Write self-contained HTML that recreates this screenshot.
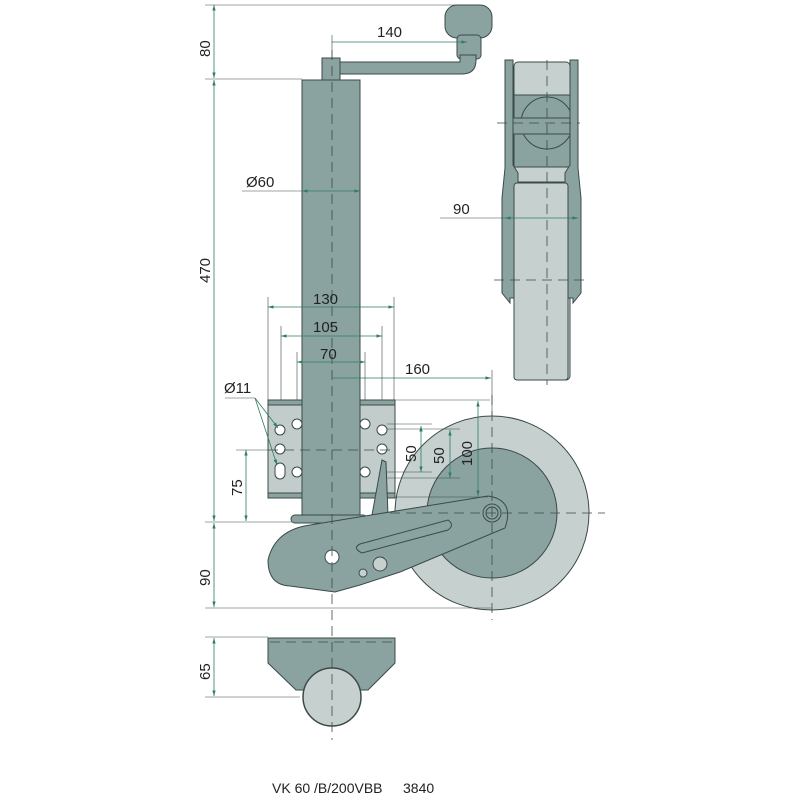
<!DOCTYPE html>
<html><head><meta charset="utf-8"><style>
html,body{margin:0;padding:0;background:#fff;}
svg{display:block;font-family:"Liberation Sans",sans-serif;}
</style></head><body>
<svg width="800" height="800" viewBox="0 0 800 800" xmlns="http://www.w3.org/2000/svg">
<defs>
<marker id="a" viewBox="0 0 10 10" refX="10" refY="5" markerWidth="7" markerHeight="7" orient="auto-start-reverse"><path d="M0,2 L10,5 L0,8 z" fill="#2e7d62"/></marker>
</defs>
<g stroke="#3a4a48" stroke-width="1">
<!-- side view -->
<rect x="514" y="62" width="56" height="318" rx="4" fill="#c6d1cf"/>
<rect x="514" y="95" width="56" height="72" fill="#8aa3a1"/>
<circle cx="547" cy="123" r="26" fill="#8aa3a1"/>
<rect x="508" y="118" width="70" height="16" rx="6" fill="#8aa3a1"/>
<rect x="513" y="167" width="58" height="15" fill="#c6d1cf"/>
<path d="M505,60 h8 v105 l5,8 v125 h-8 v5 l-8,-10 v-95 l3,-30 z" fill="#8aa3a1"/>
<path d="M578,60 h-8 v105 l-5,8 v125 h8 v5 l8,-10 v-95 l-3,-30 z" fill="#8aa3a1"/>
<rect x="514" y="183" width="54" height="197" rx="3" fill="#c6d1cf"/>
<!-- crank -->
<rect x="445" y="5" width="47" height="33" rx="12" fill="#8aa3a1"/>
<rect x="457" y="35" width="24" height="24" rx="4" fill="#8aa3a1"/>
<path d="M340,62 H460 V55 H476 V60 Q476,74 462,74 H340 Z" fill="#8aa3a1"/>
<rect x="322" y="58" width="18" height="22" fill="#8aa3a1"/>
<!-- wheel -->
<circle cx="492" cy="513" r="97" fill="#c6d1cf"/>
<circle cx="492" cy="513" r="65" fill="#8aa3a1"/>
<!-- plate -->
<rect x="268" y="400" width="127" height="98" fill="#c2cdcb"/>
<rect x="268" y="400" width="127" height="5" fill="#8aa3a1"/>
<rect x="268" y="493" width="127" height="5" fill="#8aa3a1"/>
<!-- tube -->
<rect x="302" y="80" width="58" height="440" fill="#8aa3a1"/>
<path d="M372,515 L382,460 L386,462 L388,515 Z" fill="#8aa3a1"/>
<rect x="291" y="515" width="76" height="8" rx="4" fill="#8aa3a1"/>
<!-- bracket / arm -->
<path d="M268,560 Q275,530 310,525 L488,496 Q515,500 505,528 L400,572 L360,585 L335,592 L290,586 Q268,585 268,560 Z" fill="#8aa3a1"/>
<path d="M360,544 L448,520 Q455,525 448,530 L362,553 Q352,548 360,544 Z" fill="#8aa3a1"/>
<circle cx="492" cy="513" r="9" fill="#8aa3a1"/>
<circle cx="492" cy="513" r="6" fill="none"/>
<circle cx="332" cy="557" r="7" fill="#fff"/>
<circle cx="380" cy="564" r="7" fill="#c6d1cf"/>
<circle cx="363" cy="573" r="4" fill="#c6d1cf"/>
<!-- holes -->
<g fill="#fff">
<circle cx="280" cy="430" r="5"/><circle cx="280" cy="449" r="5"/><rect x="275" y="463" width="10" height="16" rx="5"/>
<circle cx="297" cy="424" r="5"/><circle cx="297" cy="472" r="5"/>
<circle cx="365" cy="424" r="5"/><circle cx="365" cy="472" r="5"/>
<circle cx="382" cy="430" r="5"/><circle cx="382" cy="449" r="5"/>
</g>
<!-- bottom view -->
<path d="M268,638 H395 V663 L368,690 H296 L268,663 Z" fill="#8aa3a1"/>
<circle cx="332" cy="697" r="29" fill="#c6d1cf" stroke-width="1.5"/>
</g>
<!-- center lines -->
<g stroke="#3a4a48" stroke-width="0.8" stroke-dasharray="10,6" fill="none">
<line x1="332" y1="50" x2="332" y2="740"/>
<line x1="547" y1="60" x2="547" y2="385"/>
<line x1="492" y1="395" x2="492" y2="620"/>
<line x1="390" y1="513" x2="605" y2="513"/>
<line x1="268" y1="450" x2="395" y2="450"/>
<line x1="270" y1="642" x2="395" y2="642"/>
<line x1="497" y1="123" x2="580" y2="123"/>
<line x1="494" y1="280" x2="590" y2="280"/>
</g>
<!-- dimension lines -->
<g stroke="#2e7d62" stroke-width="0.8" fill="none">
<line x1="214" y1="5" x2="214" y2="78" marker-start="url(#a)" marker-end="url(#a)"/>
<line x1="214" y1="80" x2="214" y2="521" marker-start="url(#a)" marker-end="url(#a)"/>
<line x1="214" y1="523" x2="214" y2="607" marker-start="url(#a)" marker-end="url(#a)"/>
<line x1="214" y1="638" x2="214" y2="696" marker-start="url(#a)" marker-end="url(#a)"/>
<line x1="332" y1="42" x2="467" y2="42" marker-end="url(#a)"/>
<line x1="302" y1="191" x2="360" y2="191" marker-start="url(#a)" marker-end="url(#a)"/>
<line x1="268" y1="307" x2="394" y2="307" marker-start="url(#a)" marker-end="url(#a)"/>
<line x1="281" y1="336" x2="382" y2="336" marker-start="url(#a)" marker-end="url(#a)"/>
<line x1="297" y1="362" x2="365" y2="362" marker-start="url(#a)" marker-end="url(#a)"/>
<line x1="332" y1="378" x2="491" y2="378" marker-end="url(#a)"/>
<line x1="246" y1="450" x2="246" y2="521" marker-start="url(#a)" marker-end="url(#a)"/>
<line x1="421" y1="426" x2="421" y2="472" marker-start="url(#a)" marker-end="url(#a)"/>
<line x1="450" y1="430" x2="450" y2="478" marker-start="url(#a)" marker-end="url(#a)"/>
<line x1="478" y1="401" x2="478" y2="496" marker-start="url(#a)" marker-end="url(#a)"/>
<line x1="505" y1="218" x2="578" y2="218" marker-start="url(#a)" marker-end="url(#a)"/>
<line x1="255" y1="398" x2="278" y2="428" marker-end="url(#a)"/>
<line x1="255" y1="398" x2="277" y2="465" marker-end="url(#a)"/>
</g>
<g stroke="#3a4a48" stroke-width="0.6" fill="none">
<line x1="205" y1="5" x2="470" y2="5"/>
<line x1="205" y1="79" x2="302" y2="79"/>
<line x1="205" y1="522" x2="292" y2="522"/>
<line x1="205" y1="608" x2="492" y2="608"/>
<line x1="205" y1="637" x2="268" y2="637"/>
<line x1="205" y1="697" x2="300" y2="697"/>
<line x1="332" y1="35" x2="332" y2="58"/>
<line x1="242" y1="191" x2="302" y2="191"/>
<line x1="440" y1="218" x2="505" y2="218"/>
<line x1="268" y1="297" x2="268" y2="400"/>
<line x1="394" y1="297" x2="394" y2="400"/>
<line x1="281" y1="326" x2="281" y2="400"/>
<line x1="382" y1="326" x2="382" y2="400"/>
<line x1="297" y1="352" x2="297" y2="400"/>
<line x1="365" y1="352" x2="365" y2="400"/>
<line x1="492" y1="370" x2="492" y2="415"/>
<line x1="236" y1="450" x2="268" y2="450"/>
<line x1="395" y1="400" x2="490" y2="400"/>
<line x1="387" y1="424" x2="432" y2="424"/>
<line x1="387" y1="472" x2="432" y2="472"/>
<line x1="387" y1="429" x2="460" y2="429"/>
<line x1="387" y1="478" x2="460" y2="478"/>
<line x1="395" y1="497" x2="488" y2="497"/>
<line x1="225" y1="398" x2="255" y2="398"/>
</g>
<g fill="#222" font-size="15">
<text x="377" y="37">140</text>
<text x="246" y="187">Ø60</text>
<text x="453" y="214">90</text>
<text x="313" y="304">130</text>
<text x="313" y="332">105</text>
<text x="320" y="359">70</text>
<text x="405" y="374">160</text>
<text x="224" y="393">Ø11</text>
<text transform="translate(210,57) rotate(-90)">80</text>
<text transform="translate(210,283) rotate(-90)">470</text>
<text transform="translate(210,586) rotate(-90)">90</text>
<text transform="translate(210,680) rotate(-90)">65</text>
<text transform="translate(242,496) rotate(-90)">75</text>
<text transform="translate(416,462) rotate(-90)">50</text>
<text transform="translate(444,464) rotate(-90)">50</text>
<text transform="translate(472,466) rotate(-90)">100</text>
<text x="272" y="793" font-size="14">VK 60 /B/200VBB</text>
<text x="403" y="793" font-size="14">3840</text>
</g>
</svg>
</body></html>
